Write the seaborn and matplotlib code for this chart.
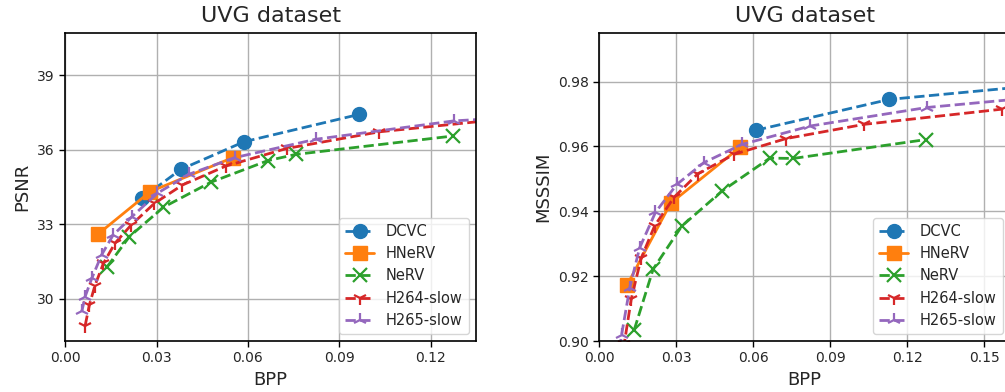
import pandas as pd
import seaborn as sns
import matplotlib
matplotlib.use("Agg")
import matplotlib.pyplot as plt

# PSNR panel data
dcvc_bpp_psnr = [0.0252, 0.0380, 0.0587, 0.0964]
dcvc_psnr = [34.05, 35.21, 36.32, 37.42]
hnerv_bpp = [0.0109, 0.0279, 0.0550]
hnerv_psnr = [32.61, 34.31, 35.68]
nerv_bpp = [0.0137, 0.0211, 0.0322, 0.0478, 0.0665, 0.0756, 0.1271]
nerv_psnr = [31.27, 32.50, 33.68, 34.69, 35.56, 35.81, 36.55]
h264_bpp = [0.0066, 0.0080, 0.0098, 0.0126, 0.0164, 0.0217, 0.0293, 0.0385, 0.0527, 0.0727, 0.1031, 0.1569]
h264_psnr = [28.92, 29.76, 30.53, 31.43, 32.24, 32.97, 33.84, 34.58, 35.34, 36.05, 36.72, 37.40]
h265_bpp = [0.0055, 0.0066, 0.0088, 0.0120, 0.0158, 0.0220, 0.0303, 0.0408, 0.0556, 0.0822, 0.1275, 0.1900]
h265_psnr = [29.49, 30.09, 30.83, 31.77, 32.57, 33.31, 34.25, 35.02, 35.68, 36.42, 37.16, 37.60]

# MS-SSIM panel data
dcvc_bpp_ssim = [0.0611, 0.1130, 0.2000]
dcvc_ssim = [0.9650, 0.9745, 0.9810]
hnerv_ssim = [0.9172, 0.9425, 0.9598]
nerv_ssim = [0.9034, 0.9222, 0.9354, 0.9462, 0.9564, 0.9563, 0.9621]
h264_ssim = [0.870, 0.886, 0.899, 0.9131, 0.9255, 0.9356, 0.9444, 0.9516, 0.9576, 0.9624, 0.9668, 0.9715]
h265_ssim = [0.880, 0.890, 0.9019, 0.9165, 0.9287, 0.9397, 0.9483, 0.9550, 0.9606, 0.9663, 0.9720, 0.9766]

methods = ["DCVC", "HNeRV", "NeRV", "H264-slow", "H265-slow"]
colors = sns.color_palette("tab10", 5)
markers = ["o", "s", "x", "1", "2"]
styles = ["--", "-", "--", "--", "--"]

sns.set_style("whitegrid")
plt.rcParams["font.family"] = ["DejaVu Sans"]


def plot_panel(ax, series, ylabel, ylim, xlim, xticks, yticks):
    for (name, x, y), c, m, ls in zip(series, colors, markers, styles):
        df = pd.DataFrame({"bpp": x, "val": y})
        sns.lineplot(data=df, x="bpp", y="val", ax=ax, color=c, marker=m,
                     linestyle=ls, linewidth=2, markersize=10,
                     markeredgewidth=1.6 if m in ("x", "1", "2") else 1,
                     markeredgecolor=c, label=name, sort=False, estimator=None)
    ax.set_xticks(xticks)
    ax.set_yticks(yticks)
    ax.set_xlim(*xlim)
    ax.set_ylim(*ylim)
    ax.xaxis.set_major_formatter(matplotlib.ticker.FormatStrFormatter("%.2f"))
    ax.set_title("UVG dataset", fontsize=16, pad=8)
    ax.set_xlabel("BPP", fontsize=13)
    ax.set_ylabel(ylabel, fontsize=13)
    ax.tick_params(labelsize=10, length=4, width=1, color="black", left=True, bottom=True)
    ax.grid(True, color="#b0b0b0", linewidth=1)
    for s in ax.spines.values():
        s.set_color("black")
        s.set_linewidth(1.2)
    ax.legend(loc="lower right", fontsize=10.5, framealpha=0.8)


fig = plt.figure(figsize=(10.05, 3.92), dpi=100)
ax1 = fig.add_axes([0.0647, 0.130, 0.409, 0.786])
ax2 = fig.add_axes([0.596, 0.130, 0.409, 0.786])

plot_panel(ax1, [("DCVC", dcvc_bpp_psnr, dcvc_psnr), ("HNeRV", hnerv_bpp, hnerv_psnr),
                 ("NeRV", nerv_bpp, nerv_psnr), ("H264-slow", h264_bpp, h264_psnr),
                 ("H265-slow", h265_bpp, h265_psnr)],
           "PSNR", (28.3, 40.7), (0, 0.1348),
           [0.00, 0.03, 0.06, 0.09, 0.12], [30, 33, 36, 39])
plot_panel(ax2, [("DCVC", dcvc_bpp_ssim, dcvc_ssim), ("HNeRV", hnerv_bpp, hnerv_ssim),
                 ("NeRV", nerv_bpp, nerv_ssim), ("H264-slow", h264_bpp, h264_ssim),
                 ("H265-slow", h265_bpp, h265_ssim)],
           "MSSSIM", (0.90, 0.995), (0, 0.16),
           [0.00, 0.03, 0.06, 0.09, 0.12, 0.15], [0.90, 0.92, 0.94, 0.96, 0.98])

fig.savefig("out.png", dpi=100)
